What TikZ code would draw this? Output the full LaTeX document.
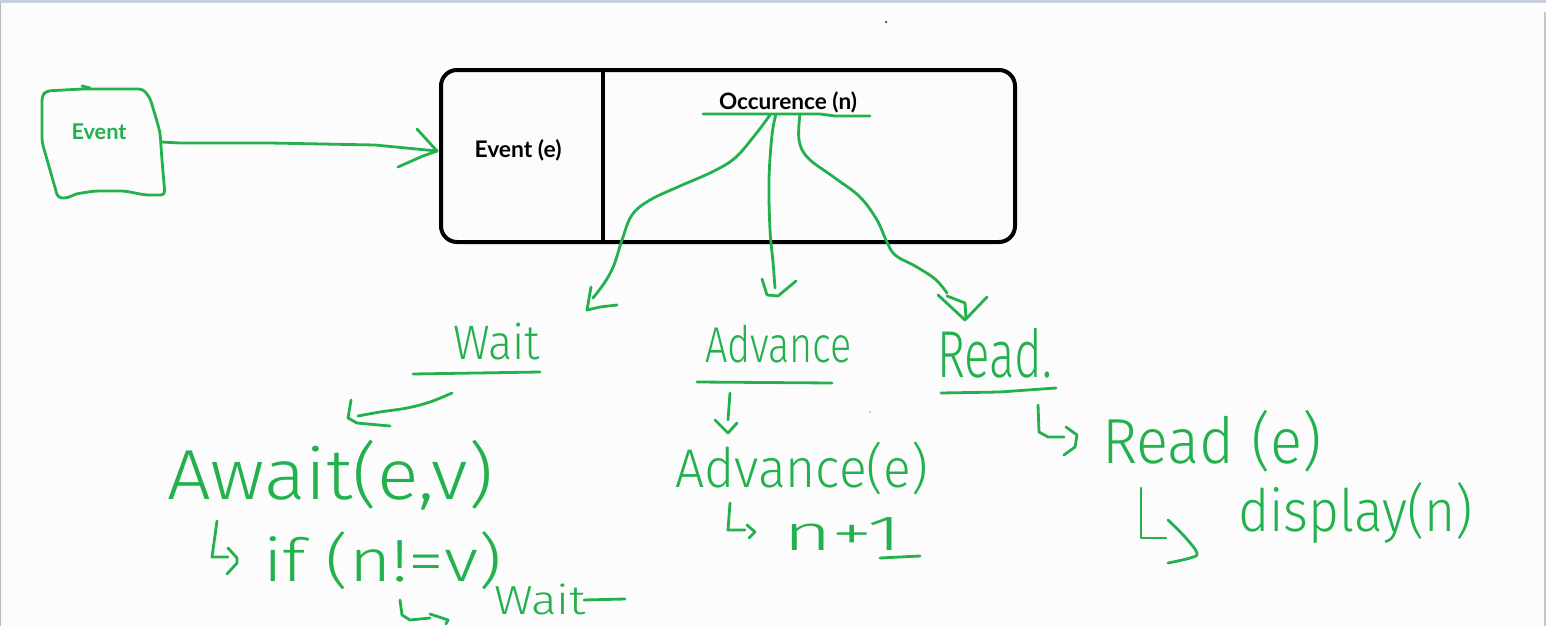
\documentclass[tikz,border=0pt]{standalone}
\usepackage{fontspec}
\usepackage{graphicx}
\setmainfont{Carlito}
\newfontfamily\lblfont{Lato}
\newfontfamily\hand{Fira Sans Light}
\definecolor{pgreen}{RGB}{34,177,76}
\definecolor{topbar}{RGB}{197,207,224}
\newcommand\hwtext[3]{\resizebox*{#1pt}{#2pt}{\hand #3}}
\newcommand\lbltext[2]{\resizebox{#1pt}{!}{\lblfont\bfseries #2}}
\begin{document}
\begin{tikzpicture}[x=1pt,y=-1pt,
  stroke/.style={draw=pgreen, line width=2.8pt, line cap=round, line join=round},
  hw/.style={inner sep=0pt, outer sep=0pt, anchor=north west, text=pgreen},
  lbl/.style={inner sep=0pt}]
\useasboundingbox (0,0) rectangle (1546,626);
\clip (0,0) rectangle (1546,626);
\fill[white!99!black] (0,0) rectangle (1546,626);
\fill[topbar] (0,0) rectangle (1546,3);
\draw[gray!55, line width=1pt] (0.5,3) -- (0.5,626);
\draw[gray!45, line width=1.5pt] (1545,12) -- (1545,626);
\fill[black] (886,22) circle (1);
\fill[gray!60] (870,412) circle (0.8);

% Event blob
\draw[stroke, rounded corners=4pt] (42,96) -- (46,91) -- (82,89) -- (143,89) -- (150,98) -- (156,118) -- (160,132) -- (162,160) -- (165,195) -- (145,195) -- (125,191) -- (95,191) -- (75,194) -- (68,198) -- (58,198) -- (50,170) -- (42,142) -- cycle;
\draw[stroke] (82,86) -- (90,88);
\node[lbl, text=pgreen] (ev) at (99,132) {\lbltext{55}{Event}};

% main box
\draw[line width=4pt, rounded corners=16pt] (441,70) rectangle (1015,242);
\draw[line width=4pt] (603,70) -- (603,242);
\node[lbl] (e) at (518,150) {\lbltext{87}{Event (e)}};
\node[lbl] (n) at (788,102) {\lbltext{138}{Occurence (n)}};

% arrow Event -> box
\coordinate (evr) at (161,142);
\coordinate (boxl) at (437,151);
\draw[stroke] (evr) -- (180,143) -- (270,143) -- (375,145) -- (boxl);
\draw[stroke] (417,129) -- (boxl);
\draw[stroke] (398,167) -- (423,156) -- (boxl);

% underline of Occurence
\draw[stroke] (703,114) -- (820,114) -- (835,116) -- (870,116);

% three branches
\draw[stroke] plot[smooth, tension=0.6] coordinates {(770,115) (755,135) (735,158) (712,172) (680,186) (650,200) (632,215) (622,240) (614,265) (605,282) (593,298)};
\draw[stroke] (591,287) -- (587,310) -- (600,307) -- (617,305);
\draw[stroke] plot[smooth, tension=0.6] coordinates {(776,114) (772,135) (769,180) (770,230) (773,262) (775,288)};
\draw[stroke] (762,279) -- (767,295) -- (778,296) -- (796,281);
\draw[stroke] plot[smooth, tension=0.6] coordinates {(800,114) (799,140) (808,158) (835,178) (860,197) (877,220) (886,240) (895,255) (915,266) (935,279) (947,293)};
\draw[stroke] (938,295) -- (965,320) -- (987,297);
\draw[stroke] (947,296) -- (965,303) -- (966,318);

% titles
\node[hw] (wt) at (453,323) {\hwtext{87}{37}{Wait}};
\node[hw] (adv) at (705,325) {\hwtext{147}{38}{Advance}};
\node[hw] (rd) at (937,328) {\hwtext{115}{50}{Read.}};
\draw[stroke] (413,374) -- (540,372);
\draw[stroke] (697,382) -- (832,383);
\draw[stroke] (941,393) -- (1000,392) -- (1056,388);

% Wait branch
\draw[stroke] plot[smooth, tension=0.6] coordinates {(452,393) (430,402) (407,408) (380,412) (358,416)};
\draw[stroke] (351,400) -- (348,418) -- (357,423) -- (390,426);
\node[hw] (aw) at (167,440) {\hwtext{326}{70}{Await(e,v)}};
\draw[stroke] (217,521) -- (212,557) -- (228,557);
\draw[stroke] (228,548) -- (237,558) -- (237,563) -- (227,574);
\node[hw] (if) at (263,532) {\hwtext{239}{58}{if (n!=v)}};
\draw[stroke] (400,600) -- (402,615) -- (410,620) -- (430,618);
\draw[stroke] (430,614) -- (448,620) -- (446,624);
\node[hw] (wt2) at (494,584) {\hwtext{92}{31}{Wait}};
\draw[stroke] (584,600) -- (625,599);

% Advance branch
\draw[stroke] (730,393) -- (728,420);
\draw[stroke] (715,420) -- (728,433) -- (737,423);
\node[hw] (adve) at (675,442) {\hwtext{253}{53}{Advance(e)}};
\draw[stroke] (730,503) -- (728,530) -- (745,530);
\draw[stroke] (747,525) -- (755,532) -- (749,538);
\node[hw] (np) at (783,517) {\hwtext{119}{33}{n+1}};
\draw[stroke] (880,558) -- (920,556);

% Read branch
\draw[stroke] (1038,405) -- (1039,432) -- (1048,437) -- (1064,437);
\draw[stroke] (1066,427) -- (1077,435) -- (1075,447) -- (1064,455);
\node[hw] (rde) at (1102,410) {\hwtext{220}{62}{Read (e)}};
\draw[stroke] (1141,488) -- (1141,538) -- (1166,538);
\draw[stroke] plot[smooth, tension=0.6] coordinates {(1168,520) (1185,537) (1197,553) (1190,558) (1168,563)};
\node[hw] (disp) at (1238,482) {\hwtext{235}{61}{display(n)}};
\end{tikzpicture}
\end{document}
